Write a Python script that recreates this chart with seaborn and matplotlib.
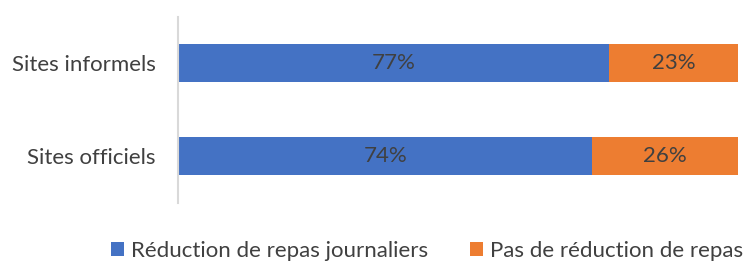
import matplotlib
matplotlib.use("Agg")
import matplotlib.pyplot as plt
from matplotlib.patches import Patch
import seaborn as sns
import pandas as pd

categories = ["Sites informels", "Sites officiels"]
reduction = [77, 74]
pas_reduction = [23, 26]
series_names = ["Réduction de repas journaliers", "Pas de réduction de repas"]
colors = ["#4472C4", "#ED7D31"]

sns.set_style("white")
plt.rcParams["font.family"] = ["Lato", "DejaVu Sans"]

df = pd.DataFrame({"cat": categories, "red": reduction, "pas": pas_reduction})
df["total"] = df["red"] + df["pas"]

fig = plt.figure(figsize=(7.45, 2.62), dpi=100)
ax = fig.add_axes([178/745, 1-202.5/262, (738-178)/745, (202.5-16.5)/262])

sns.barplot(data=df, y="cat", x="total", color=colors[1], orient="h",
            width=0.41, ax=ax, saturation=1, edgecolor="none")
sns.barplot(data=df, y="cat", x="red", color=colors[0], orient="h",
            width=0.41, ax=ax, saturation=1, edgecolor="none")

for i, (r, p) in enumerate(zip(reduction, pas_reduction)):
    ax.text(r/2, i, f"{r}%", ha="center", va="center", fontsize=16, color="#404040")
    ax.text(r + p/2, i, f"{p}%", ha="center", va="center", fontsize=16, color="#404040")

ax.set_xlim(0, 100)
ax.set_ylim(1.5, -0.5)
ax.set_xlabel("")
ax.set_ylabel("")
ax.set_xticks([])
for s in ["top", "right", "bottom"]:
    ax.spines[s].set_visible(False)
ax.spines["left"].set_color("#D9D9D9")
ax.spines["left"].set_linewidth(1.5)
ax.tick_params(axis="y", length=0, pad=16, labelsize=16, labelcolor="#404040")

handles = [Patch(facecolor=c, edgecolor="none") for c in colors]
fig.legend(handles, series_names, loc="center", bbox_to_anchor=(427/745, 1-251/262),
           ncol=2, frameon=False, fontsize=16, labelcolor="#404040",
           handlelength=0.6, handleheight=0.6, handletextpad=0.3, columnspacing=1.9,
           borderpad=0, borderaxespad=0)

fig.savefig("out.png", dpi=100)
